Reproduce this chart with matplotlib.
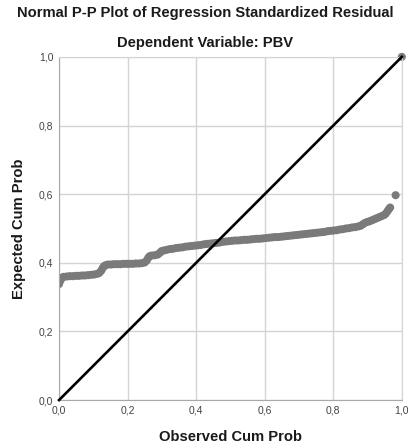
import matplotlib
matplotlib.use("Agg")
import matplotlib.pyplot as plt

plt.rcParams['font.family'] = ['Liberation Sans', 'DejaVu Sans']

# observed cum prob / expected cum prob
obs = [0.000, 0.004, 0.008, 0.013, 0.022, 0.031, 0.040, 0.049, 0.058, 0.067,
       0.076, 0.085, 0.094, 0.103, 0.112, 0.118, 0.123, 0.127, 0.131, 0.136,
       0.143, 0.152, 0.161, 0.170, 0.179, 0.188, 0.197, 0.206, 0.215, 0.224,
       0.233, 0.242, 0.250, 0.256, 0.260, 0.264, 0.270, 0.279, 0.288, 0.294,
       0.299, 0.306, 0.315, 0.324, 0.333, 0.342, 0.351, 0.360, 0.369, 0.378,
       0.387, 0.396, 0.405, 0.414, 0.423, 0.432, 0.441, 0.450, 0.459, 0.468,
       0.477, 0.486, 0.495, 0.504, 0.513, 0.522, 0.531, 0.540, 0.549, 0.558,
       0.567, 0.576, 0.585, 0.594, 0.603, 0.612, 0.621, 0.630, 0.639, 0.648,
       0.657, 0.666, 0.675, 0.684, 0.693, 0.702, 0.711, 0.720, 0.729, 0.738,
       0.747, 0.756, 0.765, 0.774, 0.783, 0.792, 0.801, 0.810, 0.819, 0.828,
       0.837, 0.846, 0.855, 0.864, 0.873, 0.880, 0.886, 0.892, 0.899, 0.906,
       0.913, 0.920, 0.927, 0.934, 0.941, 0.948, 0.953, 0.958, 0.962, 0.966,
       0.982]
exp = [0.338, 0.348, 0.356, 0.359, 0.360, 0.361, 0.361, 0.362, 0.362, 0.363,
       0.363, 0.364, 0.365, 0.366, 0.368, 0.371, 0.377, 0.384, 0.390, 0.393,
       0.395, 0.395, 0.396, 0.396, 0.396, 0.397, 0.397, 0.397, 0.397, 0.398,
       0.398, 0.399, 0.401, 0.407, 0.414, 0.419, 0.421, 0.422, 0.424, 0.429,
       0.434, 0.436, 0.438, 0.440, 0.441, 0.443, 0.444, 0.445, 0.447, 0.448,
       0.449, 0.450, 0.451, 0.452, 0.454, 0.455, 0.456, 0.457, 0.458, 0.459,
       0.461, 0.462, 0.463, 0.464, 0.465, 0.465, 0.466, 0.467, 0.467, 0.468,
       0.469, 0.470, 0.470, 0.471, 0.472, 0.473, 0.474, 0.475, 0.475, 0.476,
       0.477, 0.478, 0.479, 0.480, 0.481, 0.482, 0.483, 0.484, 0.485, 0.486,
       0.487, 0.488, 0.489, 0.490, 0.492, 0.493, 0.494, 0.495, 0.497, 0.498,
       0.500, 0.501, 0.503, 0.504, 0.506, 0.508, 0.512, 0.516, 0.519, 0.521,
       0.524, 0.527, 0.530, 0.533, 0.536, 0.539, 0.543, 0.550, 0.556, 0.561,
       0.597]

ticks = [0.0, 0.2, 0.4, 0.6, 0.8, 1.0]
tick_labels = ["0,0", "0,2", "0,4", "0,6", "0,8", "1,0"]

fig = plt.figure(figsize=(4.1, 4.48), dpi=100)
ax = fig.add_axes([0.144, 0.107, 0.836, 0.766])

ax.set_xlim(0, 1)
ax.set_ylim(0, 1)
ax.set_xticks(ticks)
ax.set_yticks(ticks)
ax.set_xticklabels(tick_labels)
ax.set_yticklabels(tick_labels)
ax.tick_params(length=0, labelsize=7.5, colors="#444444", pad=4)
ax.grid(True, color="#d4d4d4", lw=1.0)
ax.set_axisbelow(True)
for s in ax.spines.values():
    s.set_color("#d4d4d4")
ax.spines["left"].set_color("#a8a8a8")
ax.spines["bottom"].set_color("#a8a8a8")

ax.plot([0, 1], [0, 1], color="black", lw=1.9, zorder=3, clip_on=False)
ax.scatter(obs, exp, s=34, color="#7a7a7a", edgecolors="none", zorder=2)
ax.scatter([1.0], [1.0], s=34, color="#7a7a7a", edgecolors="none", zorder=2, clip_on=False)

fig.text(0.5, 0.970, "Normal P-P Plot of Regression Standardized Residual",
         ha="center", va="center", fontsize=10.6, fontweight="bold", color="#1a1a1a")
fig.text(0.5, 0.904, "Dependent Variable: PBV",
         ha="center", va="center", fontsize=10.6, fontweight="bold", color="#1a1a1a")
ax.set_xlabel("Observed Cum Prob", fontsize=10.6, fontweight="bold", color="#1a1a1a", labelpad=10)
ax.set_ylabel("Expected Cum Prob", fontsize=10.6, fontweight="bold", color="#1a1a1a", labelpad=9)

fig.savefig("out.png", dpi=100)
